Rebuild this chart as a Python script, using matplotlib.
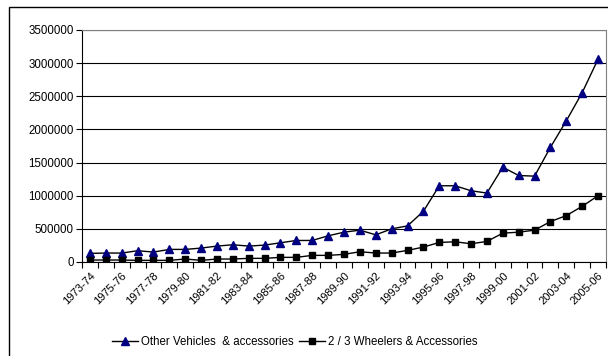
import matplotlib
matplotlib.use("Agg")
import matplotlib.pyplot as plt
from matplotlib.patches import Rectangle
from matplotlib.ticker import FixedLocator, NullFormatter

plt.rcParams['font.family'] = ['Liberation Sans', 'DejaVu Sans']

years = ['1973-74', '1974-75', '1975-76', '1976-77', '1977-78', '1978-79', '1979-80',
         '1980-81', '1981-82', '1982-83', '1983-84', '1984-85', '1985-86', '1986-87',
         '1987-88', '1988-89', '1989-90', '1990-91', '1991-92', '1992-93', '1993-94',
         '1994-95', '1995-96', '1996-97', '1997-98', '1998-99', '1999-00', '2000-01',
         '2001-02', '2002-03', '2003-04', '2004-05', '2005-06']

other_vehicles = [130000, 135000, 135000, 170000, 150000, 190000, 190000, 210000,
                  240000, 260000, 240000, 255000, 290000, 325000, 325000, 395000,
                  450000, 480000, 410000, 500000, 545000, 765000, 1150000, 1150000,
                  1075000, 1040000, 1430000, 1305000, 1295000, 1730000, 2130000,
                  2555000, 3060000]

wheelers = [30000, 30000, 30000, 25000, 25000, 25000, 45000, 25000, 45000, 45000,
            55000, 55000, 70000, 70000, 100000, 100000, 115000, 155000, 135000,
            135000, 175000, 225000, 295000, 305000, 275000, 310000, 435000, 450000,
            480000, 610000, 700000, 840000, 1000000]

yticks = [0, 500000, 1000000, 1500000, 2000000, 2500000, 3000000, 3500000]

fig = plt.figure(figsize=(6.08, 3.56), dpi=100)
ax = fig.add_axes([82 / 608, 1 - 262 / 356, 524 / 608, 232 / 356])

# outer chart frame (cropped on right and bottom)
fig.patches.append(Rectangle((9 / 608, -0.2), 1.2, 1.2 - 7 / 356,
                             transform=fig.transFigure, fill=False,
                             edgecolor='black', linewidth=1.0))

x = list(range(len(years)))
ax.plot(x, other_vehicles, color='black', linewidth=1.0, marker='^',
        markersize=5.5, markerfacecolor='#000080', markeredgecolor='#000080',
        label='Other Vehicles  & accessories')
ax.plot(x, wheelers, color='black', linewidth=1.0, marker='s',
        markersize=4.6, markerfacecolor='black', markeredgecolor='black',
        label='2 / 3 Wheelers & Accessories')

ax.set_xlim(-0.5, len(years) - 0.5)
ax.set_ylim(0, 3500000)
ax.set_yticks(yticks)
ax.set_yticklabels([str(v) for v in yticks], fontsize=8.3)
ax.grid(axis='y', color='black', linewidth=0.8)
ax.set_axisbelow(True)

ax.set_xticks(x[::2])
ax.set_xticklabels(years[::2], rotation=45, ha='right', va='top',
                   rotation_mode='anchor', fontsize=8)
ax.tick_params(axis='x', length=0, pad=6)
ax.xaxis.set_minor_locator(FixedLocator([i - 0.5 for i in range(len(years) + 1)]))
ax.xaxis.set_minor_formatter(NullFormatter())
ax.tick_params(axis='x', which='minor', length=4, width=0.8, direction='out')
ax.tick_params(axis='y', length=4, width=0.8, direction='out', pad=2)

for side in ['top', 'right']:
    ax.spines[side].set_color('#808080')
for side in ['left', 'bottom']:
    ax.spines[side].set_color('black')

ax.legend(loc='center', bbox_to_anchor=(295 / 608, 1 - 342 / 356),
          bbox_transform=fig.transFigure, ncol=2, frameon=False, fontsize=8.3,
          handlelength=2.2, handletextpad=0.3, columnspacing=0.5)

fig.savefig('out.png', dpi=100)
